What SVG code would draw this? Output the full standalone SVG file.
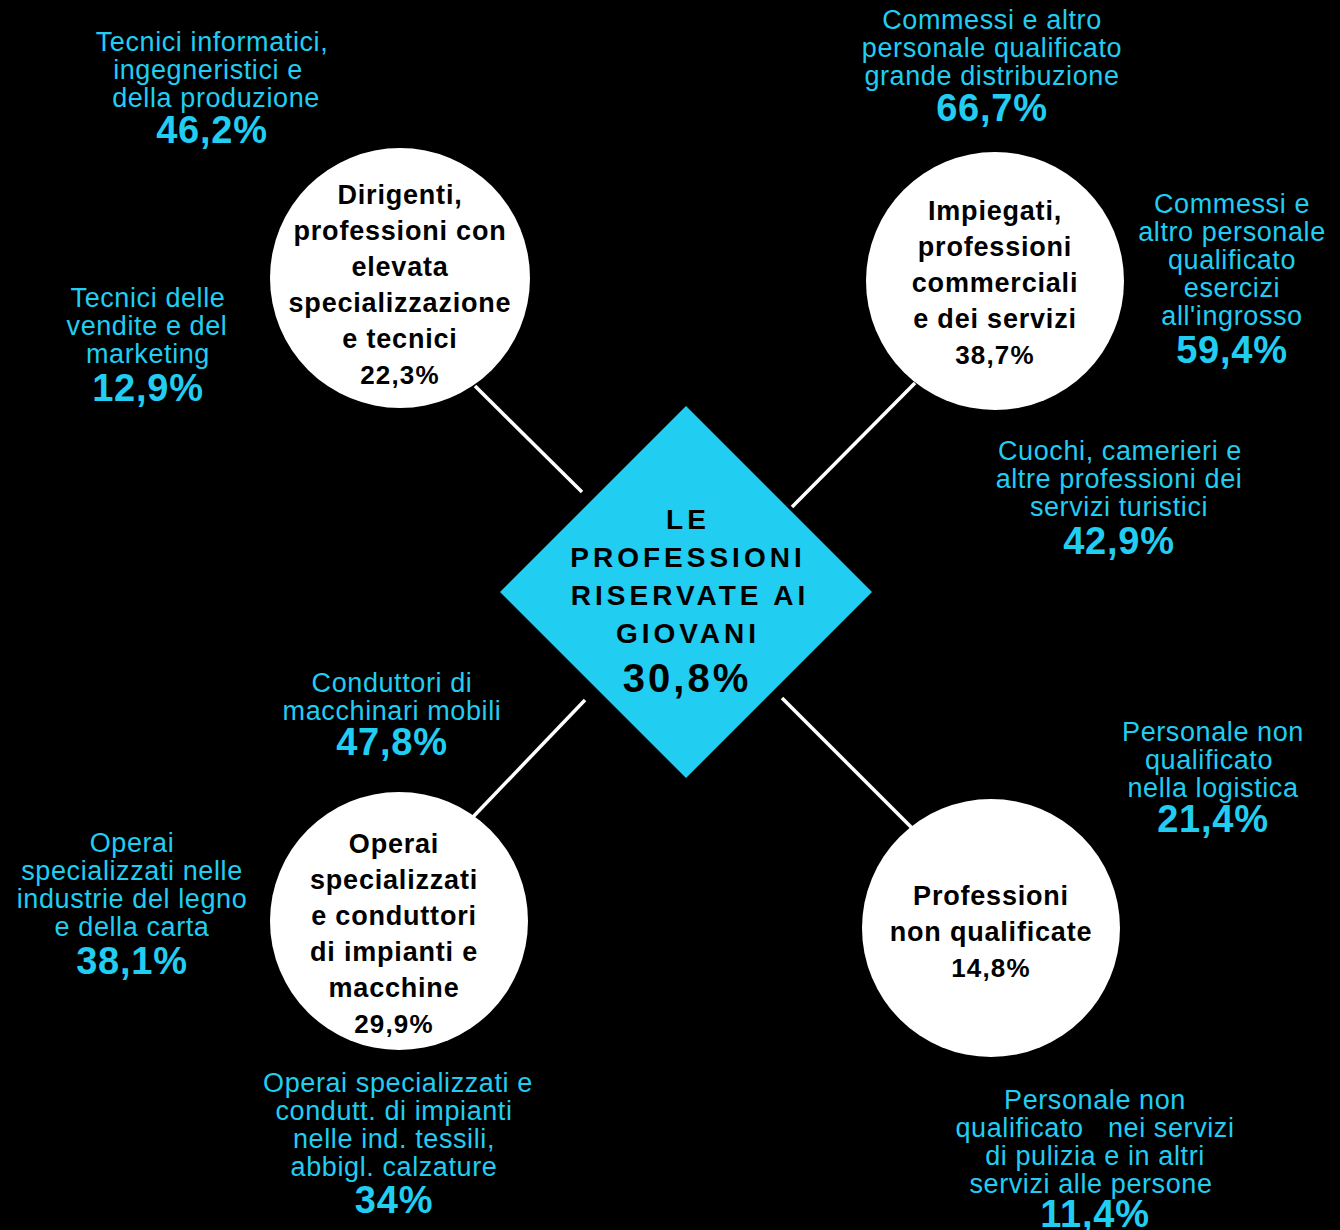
<svg xmlns="http://www.w3.org/2000/svg" width="1340" height="1230" viewBox="0 0 1340 1230">
<style>
text{font-family:"Liberation Sans",Arial,sans-serif;text-anchor:middle}
.lb{fill:#22CDF2;font-size:27px;letter-spacing:0.6px}
.pc{fill:#22CDF2;font-size:38px;font-weight:bold;letter-spacing:0.8px}
.ct{fill:#000;font-size:27px;font-weight:bold;letter-spacing:0.8px}
.cp{fill:#000;font-size:26px;font-weight:bold;letter-spacing:1.2px}
.dt{fill:#000;font-size:28px;font-weight:bold;letter-spacing:4px}
.dp{fill:#000;font-size:40px;font-weight:bold;letter-spacing:3px}
.circ{fill:#fff}
.conn line{stroke:#fff;stroke-width:3.5}
</style>
<rect width="1340" height="1230" fill="#000"/>
<g class="conn" id="connectors">
<line x1="475" y1="386" x2="582" y2="492"/>
<line x1="915" y1="383" x2="792" y2="507"/>
<line x1="585" y1="700" x2="472" y2="818"/>
<line x1="782" y1="698" x2="912" y2="828"/>
</g>
<g id="center">
<polygon points="686,406 872,592 686,778 500,592" fill="#22CDF2"/>
<text class="dt" x="688" y="529">LE</text>
<text class="dt" x="688" y="567">PROFESSIONI</text>
<text class="dt" x="690" y="605">RISERVATE AI</text>
<text class="dt" x="688" y="643">GIOVANI</text>
<text class="dp" x="687" y="692">30,8%</text>
</g>
<g id="node-dirigenti">
<circle class="circ" cx="400" cy="278" r="130"/>
<text class="ct" x="400" y="204">Dirigenti,</text>
<text class="ct" x="400" y="240">professioni con</text>
<text class="ct" x="400" y="276">elevata</text>
<text class="ct" x="400" y="312">specializzazione</text>
<text class="ct" x="400" y="348">e tecnici</text>
<text class="cp" x="400" y="384">22,3%</text>
</g>
<g id="node-impiegati">
<circle class="circ" cx="995" cy="281" r="129"/>
<text class="ct" x="995" y="220">Impiegati,</text>
<text class="ct" x="995" y="256">professioni</text>
<text class="ct" x="995" y="292">commerciali</text>
<text class="ct" x="995" y="328">e dei servizi</text>
<text class="cp" x="995" y="364">38,7%</text>
</g>
<g id="node-operai">
<circle class="circ" cx="399" cy="921" r="129"/>
<text class="ct" x="394" y="853">Operai</text>
<text class="ct" x="394" y="889">specializzati</text>
<text class="ct" x="394" y="925">e conduttori</text>
<text class="ct" x="394" y="961">di impianti e</text>
<text class="ct" x="394" y="997">macchine</text>
<text class="cp" x="394" y="1033">29,9%</text>
</g>
<g id="node-non-qualificate">
<circle class="circ" cx="991" cy="928" r="129"/>
<text class="ct" x="991" y="905">Professioni</text>
<text class="ct" x="991" y="941">non qualificate</text>
<text class="cp" x="991" y="977">14,8%</text>
</g>
<g id="label-tecnici-informatici">
<text class="lb" x="212" y="51">Tecnici informatici,</text>
<text class="lb" x="208" y="79">ingegneristici e</text>
<text class="lb" x="216" y="107">della produzione</text>
<text class="pc" x="212" y="143">46,2%</text>
</g>
<g id="label-tecnici-vendite">
<text class="lb" x="148" y="307">Tecnici delle</text>
<text class="lb" x="147" y="335">vendite e del</text>
<text class="lb" x="148" y="363">marketing</text>
<text class="pc" x="148" y="401">12,9%</text>
</g>
<g id="label-grande-distribuzione">
<text class="lb" x="992" y="29">Commessi e altro</text>
<text class="lb" x="992" y="57">personale qualificato</text>
<text class="lb" x="992" y="85">grande distribuzione</text>
<text class="pc" x="992" y="121">66,7%</text>
</g>
<g id="label-ingrosso">
<text class="lb" x="1232" y="213">Commessi e</text>
<text class="lb" x="1232" y="241">altro personale</text>
<text class="lb" x="1232" y="269">qualificato</text>
<text class="lb" x="1232" y="297">esercizi</text>
<text class="lb" x="1232" y="325">all'ingrosso</text>
<text class="pc" x="1232" y="363">59,4%</text>
</g>
<g id="label-cuochi">
<text class="lb" x="1120" y="460">Cuochi, camerieri e</text>
<text class="lb" x="1119" y="488">altre professioni dei</text>
<text class="lb" x="1119" y="516">servizi turistici</text>
<text class="pc" x="1119" y="554">42,9%</text>
</g>
<g id="label-logistica">
<text class="lb" x="1213" y="741">Personale non</text>
<text class="lb" x="1209" y="769">qualificato</text>
<text class="lb" x="1213" y="797">nella logistica</text>
<text class="pc" x="1213" y="832">21,4%</text>
</g>
<g id="label-pulizia">
<text class="lb" x="1095" y="1109">Personale non</text>
<text class="lb" x="1095" y="1137" xml:space="preserve">qualificato   nei servizi</text>
<text class="lb" x="1095" y="1165">di pulizia e in altri</text>
<text class="lb" x="1091" y="1193">servizi alle persone</text>
<text class="pc" x="1095" y="1227">11,4%</text>
</g>
<g id="label-conduttori">
<text class="lb" x="392" y="692">Conduttori di</text>
<text class="lb" x="392" y="720">macchinari mobili</text>
<text class="pc" x="392" y="755">47,8%</text>
</g>
<g id="label-legno">
<text class="lb" x="132" y="852">Operai</text>
<text class="lb" x="132" y="880">specializzati nelle</text>
<text class="lb" x="132" y="908">industrie del legno</text>
<text class="lb" x="132" y="936">e della carta</text>
<text class="pc" x="132" y="974">38,1%</text>
</g>
<g id="label-tessili">
<text class="lb" x="398" y="1092">Operai specializzati e</text>
<text class="lb" x="394" y="1120">condutt. di impianti</text>
<text class="lb" x="394" y="1148">nelle ind. tessili,</text>
<text class="lb" x="394" y="1176">abbigl. calzature</text>
<text class="pc" x="394" y="1213">34%</text>
</g>
</svg>
